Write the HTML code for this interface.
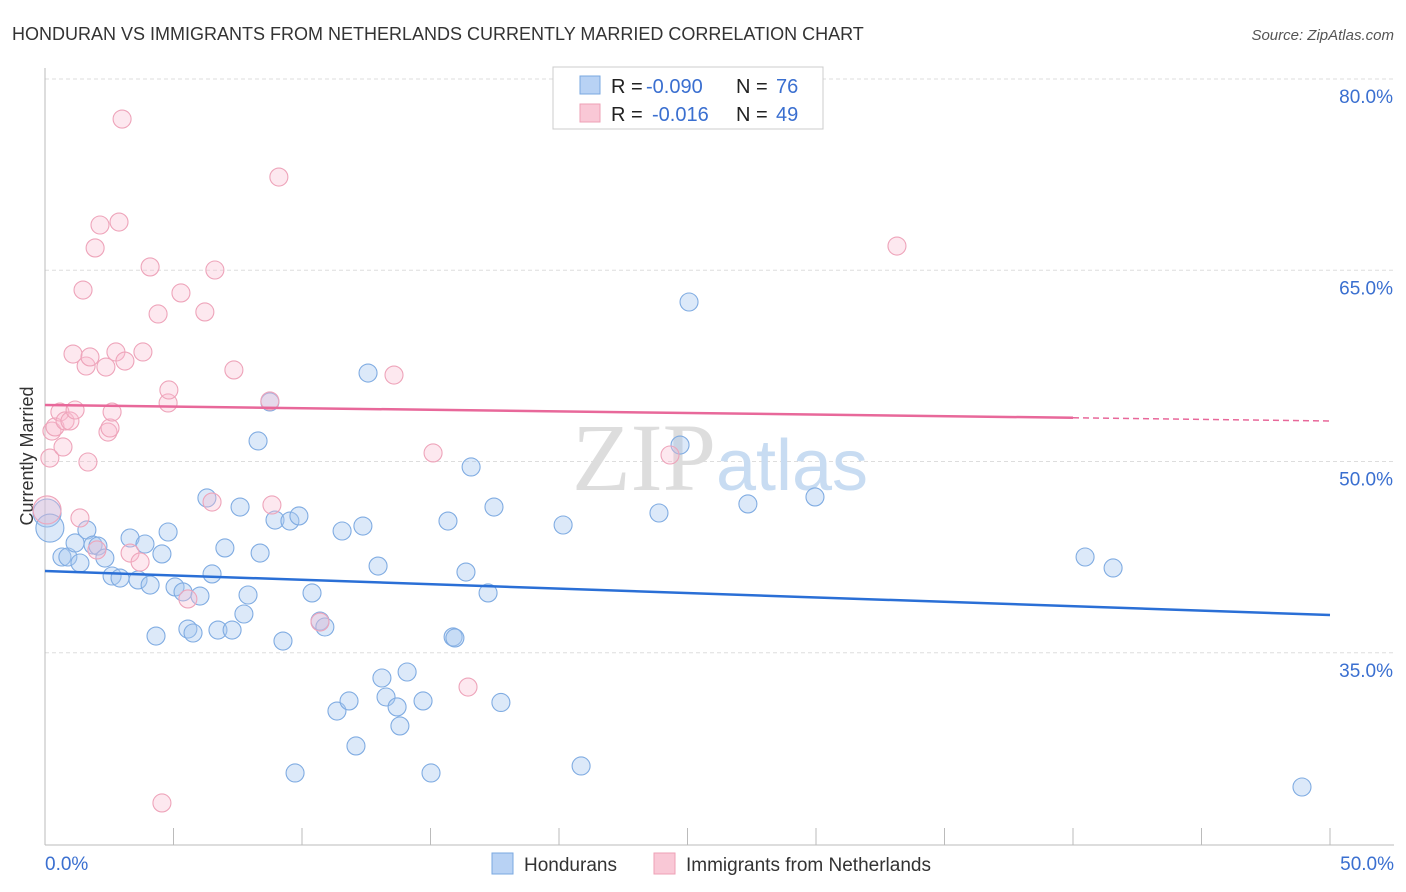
<!DOCTYPE html>
<html><head><meta charset="utf-8"><style>
body{margin:0;background:#fff;font-family:"Liberation Sans",sans-serif}
</style></head><body>
<svg id="chart" width="1406" height="892" xmlns="http://www.w3.org/2000/svg" style="display:block">
<text x="12" y="40" font-size="18" fill="#333">HONDURAN VS IMMIGRANTS FROM NETHERLANDS CURRENTLY MARRIED CORRELATION CHART</text>
<text x="1394" y="40" font-size="15" fill="#555" text-anchor="end" font-style="italic">Source: ZipAtlas.com</text>
<text x="33" y="456" font-size="18" fill="#333" text-anchor="middle" transform="rotate(-90 33 456)">Currently Married</text>
<g id="grid"></g>
<text x="720" y="490" font-size="96" text-anchor="middle" fill="#ddd" font-family="Liberation Serif,serif">ZIP<tspan fill="#c8dcf2" font-family="Liberation Sans,sans-serif" font-size="72">atlas</tspan></text>
<g id="points"></g>
<g id="trends"></g>
<g>
<rect x="553" y="67" width="270" height="62" fill="#fff" stroke="#ccc"/>
<rect x="580" y="76" width="20" height="18" fill="#b8d2f4" stroke="#7aa8e0"/>
<text x="611" y="93" font-size="20" fill="#222">R =</text>
<text x="646" y="93" font-size="20" fill="#3a6fd0">-0.090</text>
<text x="736" y="93" font-size="20" fill="#222">N =</text>
<text x="776" y="93" font-size="20" fill="#3a6fd0">76</text>
<rect x="580" y="104" width="20" height="18" fill="#f9c8d6" stroke="#eea0b6"/>
<text x="611" y="121" font-size="20" fill="#222">R =</text>
<text x="652" y="121" font-size="20" fill="#3a6fd0">-0.016</text>
<text x="736" y="121" font-size="20" fill="#222">N =</text>
<text x="776" y="121" font-size="20" fill="#3a6fd0">49</text>
</g>
<g>
<rect x="492" y="853" width="21" height="21" fill="#b8d2f4" stroke="#7aa8e0"/>
<text x="524" y="871" font-size="19" fill="#333">Hondurans</text>
<rect x="654" y="853" width="21" height="21" fill="#f9c8d6" stroke="#eea0b6"/>
<text x="686" y="871" font-size="19" fill="#333">Immigrants from Netherlands</text>
</g>
</svg>
<script>
const yTicks=[80,65,50,35];
const yTickLabels=["80.0%","65.0%","50.0%","35.0%"];
const xTickLabels=["0.0%","50.0%"];
const blueX=[0.08,0.19,0.66,0.89,1.17,1.36,1.63,1.87,2.06,2.33,2.61,2.92,3.31,3.62,3.89,4.09,4.32,4.55,4.79,5.06,5.37,5.56,5.76,6.03,6.30,6.50,6.73,7.00,7.28,7.59,7.74,7.90,8.29,8.37,8.75,8.95,9.26,9.53,9.73,9.88,10.39,10.70,10.89,11.36,11.56,11.83,12.10,12.37,12.57,12.96,13.11,13.27,13.70,13.81,14.09,14.71,15.02,15.68,15.88,15.95,16.38,16.58,17.24,17.47,17.74,20.16,20.86,23.89,24.71,25.06,27.35,29.96,40.47,41.56,48.91];
const blueY=[45.96,44.78,42.51,42.51,43.61,42.04,44.63,43.45,43.37,42.43,41.02,40.86,44.00,40.71,43.53,40.31,36.31,42.75,44.47,40.16,39.77,36.86,36.55,39.45,47.14,41.18,36.78,43.22,36.78,46.43,38.04,39.53,51.61,42.82,54.67,45.41,35.92,45.33,25.57,45.73,39.69,37.49,37.02,30.43,44.55,31.22,27.69,44.94,56.94,41.80,33.02,31.53,30.75,29.26,33.49,31.22,25.57,45.33,36.24,36.16,41.33,49.57,39.69,46.43,31.10,45.02,26.12,45.96,51.29,62.51,46.67,47.22,42.51,41.65,24.47];
const pinkX=[0.19,0.27,0.39,0.58,0.70,0.78,0.97,1.09,1.17,1.36,1.48,1.60,1.67,1.75,1.95,2.02,2.14,2.37,2.45,2.53,2.61,2.76,2.88,3.00,3.11,3.31,3.70,3.81,4.09,4.40,4.55,4.79,4.82,5.29,5.56,6.22,6.50,6.61,7.35,8.75,8.83,9.10,10.70,13.58,15.10,16.46,24.32,33.15,0.08];
const pinkY=[50.27,52.39,52.71,53.88,51.14,53.18,53.18,58.43,54.04,45.57,63.45,57.49,49.96,58.20,66.75,43.06,68.55,57.41,52.31,52.63,53.88,58.59,68.78,76.86,57.88,42.82,42.12,58.59,65.26,61.57,23.22,54.59,55.61,63.22,39.22,61.73,46.82,65.02,57.18,54.75,46.59,72.31,37.41,56.78,50.67,32.31,50.51,66.90,46.20];
const blueTrend=[41.41,37.96];
const pinkTrend=[54.43,53.18];
const NS="http://www.w3.org/2000/svg";
const sx=v=>45+v/50*1285, sy=v=>79+(80-v)*12.75;
function mk(tag,attrs,parent){const e=document.createElementNS(NS,tag);for(const k in attrs)e.setAttribute(k,attrs[k]);document.getElementById(parent).appendChild(e);return e;}
yTicks.forEach((t,i)=>{
 const l=mk('line',{x1:45,x2:1394,y1:sy(t),y2:sy(t),stroke:'#ddd','stroke-dasharray':'4,3'},'grid');
 
 
 const tx=mk('text',{x:1393,y:sy(t)+24,'font-size':19,fill:'#3a6fd0','text-anchor':'end'},'grid');
 tx.textContent=yTickLabels[i];
 
 
});
const ax=mk('line',{x1:45,x2:45,y1:68,y2:845,stroke:'#bbb'},'grid');


const bx=mk('line',{x1:45,x2:1394,y1:845,y2:845,stroke:'#bbb'},'grid');


for(let i=0;i<=10;i++){const t=mk('line',{x1:sx(i*5),x2:sx(i*5),y1:828,y2:845,stroke:'#bbb'},'grid');
 
 }
[[0,'start',45],[1,'end',1394]].forEach(([i,a,x])=>{const t=mk('text',{x:x,y:870,'font-size':19,fill:'#3a6fd0','text-anchor':a},'grid');t.textContent=xTickLabels[i];
 
 });
blueX.forEach((x,i)=>{const r=i<2?14:9;const c=mk('circle',{cx:sx(x),cy:sy(blueY[i]),r:r,fill:'rgba(168,200,240,0.4)',stroke:'#80ace2','stroke-width':1.1},'points');
 
 });
pinkX.forEach((x,i)=>{const r=i==pinkX.length-1?14:9;const c=mk('circle',{cx:sx(x),cy:sy(pinkY[i]),r:r,fill:'rgba(248,190,208,0.35)',stroke:'#eea4ba','stroke-width':1.1},'points');
 
 });
const bl=mk('line',{x1:sx(0),y1:sy(blueTrend[0]),x2:sx(50),y2:sy(blueTrend[1]),stroke:'#2a6fd6','stroke-width':2.5},'trends');


const pm=pinkTrend[0]+(pinkTrend[1]-pinkTrend[0])*0.8;
const pl=mk('line',{x1:sx(0),y1:sy(pinkTrend[0]),x2:sx(40),y2:sy(pm),stroke:'#e8689a','stroke-width':2.5},'trends');


const pd=mk('line',{x1:sx(40),y1:sy(pm),x2:sx(50),y2:sy(pinkTrend[1]),stroke:'#e8689a','stroke-width':1.5,'stroke-dasharray':'6,4'},'trends');


</script>
</body></html>
